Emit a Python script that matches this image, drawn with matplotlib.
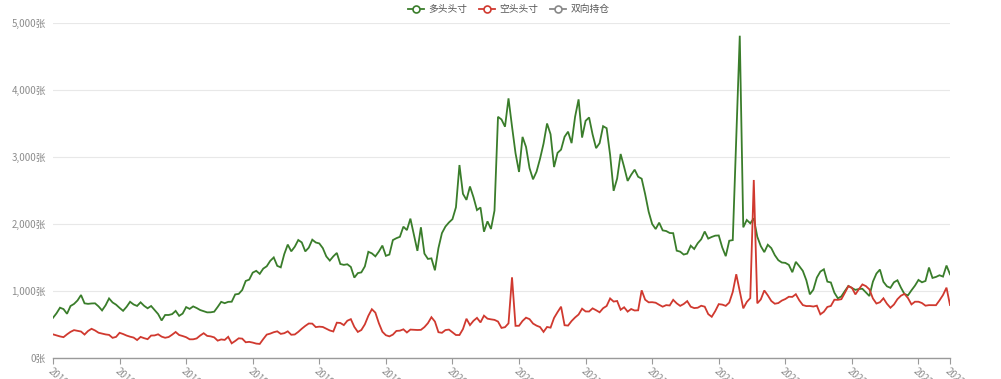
import matplotlib
matplotlib.use("Agg")
import matplotlib.pyplot as plt
from matplotlib.lines import Line2D
import pandas as pd

plt.rcParams['font.family'] = ['Noto Sans CJK SC', 'DejaVu Sans']

# ---- data (weekly) ----
dates = pd.date_range('2018-02-02', periods=257, freq='7D').strftime('%Y-%m-%d').tolist()

long_pos = [
    600, 667, 751, 730, 660, 776, 807, 859, 940, 816,
    808, 814, 816, 770, 710, 786, 889, 829, 796, 748,
    704, 764, 839, 799, 777, 831, 779, 742, 776, 717,
    656, 560, 642, 642, 655, 703, 629, 663, 760, 733,
    770, 746, 716, 698, 681, 682, 691, 762, 838, 818,
    838, 840, 949, 957, 1015, 1150, 1170, 1274, 1301, 1256,
    1334, 1369, 1450, 1501, 1375, 1353, 1550, 1693, 1592, 1661,
    1761, 1725, 1591, 1647, 1766, 1724, 1710, 1640, 1516, 1454,
    1517, 1568, 1403, 1390, 1399, 1359, 1200, 1267, 1278, 1367,
    1585, 1562, 1517, 1589, 1678, 1525, 1544, 1760, 1788, 1809,
    1960, 1909, 2080, 1843, 1599, 1951, 1558, 1479, 1487, 1309,
    1640, 1864, 1962, 2023, 2072, 2250, 2880, 2450, 2360, 2560,
    2400, 2208, 2246, 1885, 2040, 1926, 2200, 3600, 3560, 3452,
    3875, 3456, 3057, 2777, 3300, 3150, 2834, 2667, 2781, 2974,
    3200, 3500, 3340, 2850, 3062, 3110, 3302, 3378, 3207, 3600,
    3860, 3290, 3540, 3590, 3336, 3132, 3207, 3460, 3430, 3030,
    2495, 2678, 3045, 2850, 2643, 2734, 2811, 2705, 2676, 2445,
    2183, 2000, 1925, 2020, 1905, 1895, 1866, 1863, 1602, 1587,
    1544, 1558, 1676, 1627, 1713, 1772, 1888, 1782, 1807, 1826,
    1829, 1650, 1520, 1750, 1760, 3300, 4810, 1950, 2060, 2010,
    2085, 1810, 1670, 1580, 1690, 1640, 1535, 1460, 1425, 1420,
    1390, 1280, 1435, 1370, 1300, 1160, 950, 1020, 1200, 1290,
    1324, 1140, 1127, 975, 890, 920, 1000, 1075, 1045, 1017,
    1030, 1033, 980, 925, 1140, 1260, 1320, 1137, 1070, 1047,
    1130, 1160, 1050, 955, 935, 1010, 1080, 1165, 1130, 1150,
    1350, 1195, 1210, 1235, 1215, 1380, 1249,
]

short_pos = [
    353, 338, 322, 311, 353, 390, 416, 405, 395, 350,
    403, 436, 411, 377, 364, 352, 345, 301, 315, 376,
    358, 335, 318, 305, 268, 315, 296, 281, 335, 337,
    354, 319, 302, 313, 348, 388, 343, 328, 310, 279,
    279, 292, 335, 370, 330, 323, 308, 259, 277, 270,
    316, 219, 254, 294, 289, 235, 241, 230, 215, 210,
    282, 349, 364, 385, 398, 360, 370, 398, 347, 351,
    390, 437, 479, 515, 513, 461, 468, 463, 437, 411,
    396, 527, 523, 491, 556, 580, 464, 389, 418, 502,
    630, 728, 677, 519, 392, 340, 323, 349, 404, 408,
    428, 381, 424, 421, 418, 420, 461, 520, 609, 544,
    385, 376, 417, 424, 384, 343, 343, 432, 586, 491,
    555, 599, 531, 632, 587, 577, 569, 544, 449, 460,
    517, 1204, 480, 481, 553, 602, 580, 514, 483, 462,
    390, 463, 453, 598, 685, 766, 489, 484, 552, 605,
    649, 736, 695, 694, 741, 713, 682, 743, 776, 889,
    842, 851, 720, 757, 692, 731, 709, 712, 1010, 870,
    831, 833, 825, 794, 766, 789, 784, 868, 816, 778,
    806, 849, 766, 745, 750, 780, 766, 655, 615, 700,
    804, 797, 778, 827, 986, 1250, 995, 741, 836, 894,
    2657, 816, 874, 1008, 935, 851, 810, 820, 857, 880,
    914, 912, 952, 860, 790, 775, 776, 768, 781, 652,
    690, 762, 777, 870, 868, 878, 973, 1073, 1048, 949,
    1027, 1098, 1073, 1024, 888, 813, 832, 891, 810, 750,
    798, 878, 930, 957, 895, 800, 840, 840, 820, 781,
    789, 789, 788, 860, 940, 1050, 791,
]

series_names = ['多头头寸', '空头头寸', '双向持仓']
y_ticks = [0, 1000, 2000, 3000, 4000, 5000]
label_step = 19

# ---- style ----
GREEN = '#3a7d2b'
RED = '#d0392f'
GRAY = '#9a9a9a'

fig = plt.figure(figsize=(10.01, 3.79), dpi=100)
ax = fig.add_axes([53 / 1001, 1 - 358 / 379, 897 / 1001, 335 / 379])

x = list(range(len(dates)))
ax.plot(x, long_pos, color=GREEN, lw=1.3, solid_joinstyle='miter', zorder=3)
ax.plot(x, short_pos, color=RED, lw=1.3, solid_joinstyle='miter', zorder=3)

ax.set_xlim(0, len(dates) - 1)
ax.set_ylim(0, 5000)

ax.set_yticks(y_ticks)
ax.set_yticklabels([f'{v:,}张' for v in y_ticks])
ax.grid(axis='y', color='#e8e8e8', lw=0.8, zorder=0)
ax.tick_params(axis='y', length=0, pad=5, labelsize=7, labelcolor='#8c8c8c')

tick_idx = list(range(0, len(dates), label_step))
if tick_idx[-1] != len(dates) - 1:
    tick_idx.append(len(dates) - 1)
ax.set_xticks(tick_idx)
ax.set_xticklabels([dates[i] for i in tick_idx], rotation=-42,
                   ha='left', va='top', rotation_mode='anchor')
ax.tick_params(axis='x', length=4, color=GRAY, pad=2, labelsize=7,
               labelcolor='#8c8c8c')

for s in ['top', 'right', 'left']:
    ax.spines[s].set_visible(False)
ax.spines['bottom'].set_color(GRAY)
ax.spines['bottom'].set_linewidth(1.0)

handles = [
    Line2D([], [], color=GREEN, lw=1.3, marker='o', markersize=5,
           markerfacecolor='white', markeredgecolor=GREEN, markeredgewidth=1.2),
    Line2D([], [], color=RED, lw=1.3, marker='o', markersize=5,
           markerfacecolor='white', markeredgecolor=RED, markeredgewidth=1.2),
    Line2D([], [], color='#888888', lw=1.3, marker='o', markersize=5,
           markerfacecolor='white', markeredgecolor='#888888', markeredgewidth=1.2),
]
fig.legend(handles, series_names, loc='center', bbox_to_anchor=(509 / 1001, 1 - 9 / 379),
           ncol=3, frameon=False, fontsize=7, handlelength=1.6, handletextpad=0.5,
           columnspacing=1.2, labelcolor='#555555')

fig.savefig('out.png', dpi=100)
